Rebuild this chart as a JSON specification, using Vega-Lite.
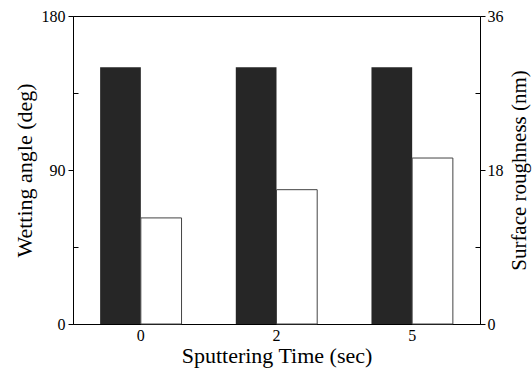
{
  "$schema": "https://vega.github.io/schema/vega-lite/v6.json",
  "width": 407,
  "height": 308,
  "autosize": {"type": "none"},
  "padding": {"left": 73, "top": 16, "right": 52, "bottom": 46},
  "background": "white",
  "config": {
    "font": "Liberation Serif",
    "view": {"stroke": "black", "strokeWidth": 1},
    "axis": {
      "labelFont": "Liberation Serif",
      "titleFont": "Liberation Serif",
      "labelFontSize": 16,
      "titleFontSize": 22,
      "titleFontWeight": "normal",
      "labelColor": "black",
      "titleColor": "black",
      "domainColor": "black",
      "tickColor": "black",
      "grid": false
    }
  },
  "data": {
    "values": [
      {"time": "0", "series": "angle", "value": 150},
      {"time": "2", "series": "angle", "value": 150},
      {"time": "5", "series": "angle", "value": 150},
      {"time": "0", "series": "rough", "value": 12.4},
      {"time": "2", "series": "rough", "value": 15.7},
      {"time": "5", "series": "rough", "value": 19.4}
    ]
  },
  "encoding": {
    "x": {
      "field": "time",
      "type": "ordinal",
      "sort": ["0", "2", "5"],
      "scale": {"paddingInner": 0.4, "paddingOuter": 0.2},
      "axis": {
        "title": "Sputtering Time (sec)",
        "labelAngle": 0,
        "ticks": false,
        "labelPadding": 3,
        "titlePadding": 2
      }
    }
  },
  "layer": [
    {
      "transform": [{"filter": "datum.series == 'angle'"}],
      "mark": {"type": "bar", "color": "#262626"},
      "encoding": {
        "xOffset": {"field": "series", "type": "nominal", "scale": {"domain": ["angle", "rough"], "paddingInner": 0, "paddingOuter": 0}},
        "y": {
          "field": "value",
          "type": "quantitative",
          "scale": {"domain": [0, 180], "nice": false},
          "axis": {
            "orient": "left",
            "title": "Wetting angle (deg)",
            "values": [0, 90, 180],
            "tickSize": 5,
            "labelPadding": 3,
            "titlePadding": 5
          }
        }
      }
    },
    {
      "transform": [{"filter": "datum.series == 'rough'"}],
      "mark": {"type": "bar", "fill": "white", "stroke": "#444444", "strokeWidth": 1},
      "encoding": {
        "xOffset": {"field": "series", "type": "nominal", "scale": {"domain": ["angle", "rough"], "paddingInner": 0, "paddingOuter": 0}},
        "y": {
          "field": "value",
          "type": "quantitative",
          "scale": {"domain": [0, 36], "nice": false},
          "axis": {
            "orient": "right",
            "title": "Surface roughness (nm)",
            "titleFontSize": 21,
            "titleAngle": 270,
            "titleBaseline": "top",
            "values": [0, 18, 36],
            "tickSize": 5,
            "labelPadding": 2,
            "titlePadding": 5
          }
        }
      }
    },
    {
      "transform": [{"filter": "datum.series == 'angle'"}],
      "mark": {"type": "point", "opacity": 0},
      "encoding": {
        "y": {
          "field": "value",
          "type": "quantitative",
          "scale": {"domain": [0, 180], "nice": false},
          "axis": {
            "orient": "left",
            "title": null,
            "values": [45, 135],
            "tickSize": -5,
            "labels": false,
            "domain": false
          }
        }
      }
    },
    {
      "transform": [{"filter": "datum.series == 'rough'"}],
      "mark": {"type": "point", "opacity": 0},
      "encoding": {
        "y": {
          "field": "value",
          "type": "quantitative",
          "scale": {"domain": [0, 36], "nice": false},
          "axis": {
            "orient": "right",
            "title": null,
            "values": [9, 27],
            "tickSize": -5,
            "labels": false,
            "domain": false
          }
        }
      }
    }
  ],
  "resolve": {"scale": {"y": "independent"}, "axis": {"y": "independent"}}
}
